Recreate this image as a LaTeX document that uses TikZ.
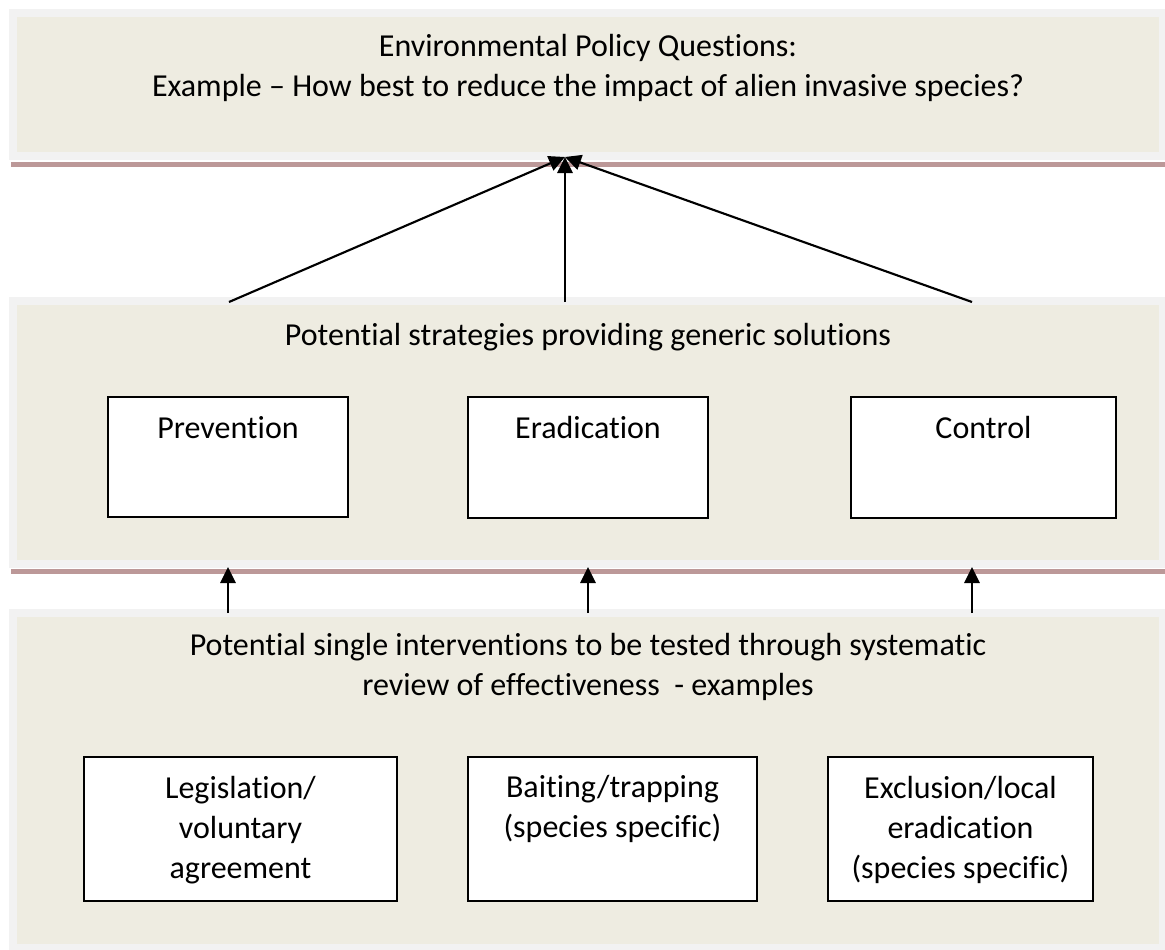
\documentclass[tikz,border=0pt]{standalone}
\usepackage{fontspec}
\setmainfont{Carlito}[Ligatures=NoCommon]
\usepackage{tikz}
\usetikzlibrary{arrows.meta}

\begin{document}
\begin{tikzpicture}[x=0.75pt,y=0.75pt,yscale=-1,xscale=1,
        band/.style={draw={rgb, 255:red, 242; green, 242; blue, 242}, line width=6pt, fill={rgb, 255:red, 238; green, 236; blue, 225}, minimum width=862.5pt, inner sep=0pt},
        optbox/.style={draw, line width=1.2pt, fill=white, inner sep=0pt},
        txt/.style={inner sep=0pt, align=center, font=\fontsize{24}{30}\selectfont},
        arr/.style={line width=1.6pt, -{Triangle[length=12pt,width=11.5pt]}}]
        \useasboundingbox (0,0) rectangle (1165,950);

        %Shadow lines under the bands
        \fill [fill={rgb, 255:red, 188; green, 152; blue, 152 }] (11,161.5) rectangle (1165,166.5) ;
        \fill [fill={rgb, 255:red, 188; green, 152; blue, 152 }] (11,568.5) rectangle (1165,573.5) ;

        %Bands
        \node [band, minimum height=107.6pt] (goal) at (587.5,84.75) {};
        \node [band, minimum height=197.25pt] (strat) at (587.5,432.5) {};
        \node [band, minimum height=251.25pt] (interv) at (587.5,780) {};

        %Strategy boxes
        \node [optbox, minimum width=180pt, minimum height=90pt] (prev) at (228,457) {};
        \node [optbox, minimum width=180pt, minimum height=90.75pt] (erad) at (588,457.5) {};
        \node [optbox, minimum width=198.75pt, minimum height=90.75pt] (ctrl) at (983.5,457.5) {};

        %Intervention boxes
        \node [optbox, minimum width=234.75pt, minimum height=108pt] (legis) at (240.5,829) {};
        \node [optbox, minimum width=216.75pt, minimum height=108pt] (bait) at (612.5,829) {};
        \node [optbox, minimum width=198.75pt, minimum height=108pt] (excl) at (960.5,829) {};

        % Text Node
        \node [txt] (goaltext) at (588,68) {Environmental Policy Questions:\\Example – How best to reduce the impact of alien invasive species?};
        % Text Node
        \node [txt] (strattext) at (588,337) {Potential strategies providing generic solutions};
        % Text Node
        \node [txt] (intervtext) at (588,667) {Potential single interventions to be tested through systematic\\review of effectiveness~ - examples};
        % Text Node
        \node [txt] (prevtext) at (228,428) {Prevention};
        % Text Node
        \node [txt] (eradtext) at (588,428) {Eradication};
        % Text Node
        \node [txt] (ctrltext) at (983.5,428) {Control};
        % Text Node
        \node [txt] (legistext) at (240.5,830) {Legislation/\\voluntary\\agreement};
        % Text Node
        \node [txt] (baittext) at (612.5,809) {Baiting/trapping\\(species specific)};
        % Text Node
        \node [txt] (excltext) at (960.5,830) {Exclusion/local\\eradication\\(species specific)};

        %Arrow ends
        \coordinate (apex) at (565,157) ;
        \coordinate (up1) at (229,302) ;
        \coordinate (up2) at (565,302) ;
        \coordinate (up3) at (972,302) ;
        \coordinate (lo1) at (228,613) ;
        \coordinate (lo2) at (588,613) ;
        \coordinate (lo3) at (972,613) ;
        \coordinate (hi1) at (228,567) ;
        \coordinate (hi2) at (588,567) ;
        \coordinate (hi3) at (972,567) ;

        %Arrows
        \draw [arr] (up1) -- (apex) ;
        \draw [arr] (up2) -- (apex) ;
        \draw [arr] (up3) -- (apex) ;
        \draw [arr] (lo1) -- (hi1) ;
        \draw [arr] (lo2) -- (hi2) ;
        \draw [arr] (lo3) -- (hi3) ;

    \end{tikzpicture}
\end{document}
